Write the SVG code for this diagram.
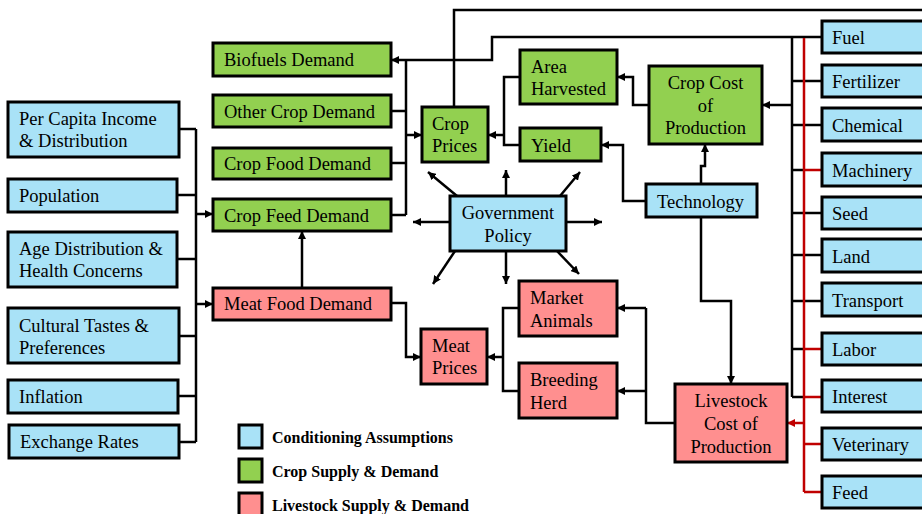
<svg xmlns="http://www.w3.org/2000/svg" width="922" height="514" viewBox="0 0 922 514">
<defs>
<marker id="ah" markerUnits="userSpaceOnUse" markerWidth="9" markerHeight="8" refX="8" refY="4" orient="auto"><path d="M0,0 L8,4 L0,8 z" fill="#000"/></marker>
<marker id="ahr" markerUnits="userSpaceOnUse" markerWidth="9" markerHeight="8" refX="8" refY="4" orient="auto"><path d="M0,0 L8,4 L0,8 z" fill="#c00000"/></marker>
</defs>
<style>
.b{fill:#a9e2f7;stroke:#000;stroke-width:3}
.g{fill:#92d050;stroke:#000;stroke-width:3}
.p{fill:#ff8f8f;stroke:#000;stroke-width:3}
text{font-family:"Liberation Serif","Times New Roman",serif;font-size:18.5px;fill:#000}
.c{text-anchor:middle}
.lg{font-weight:bold;font-size:16px}
#connectors path{fill:none;stroke:#000;stroke-width:2.5}
#connectors .r{stroke:#c00000}
#connectors .a{marker-end:url(#ah)}
#connectors .ar{marker-end:url(#ahr)}
</style>
<rect width="922" height="514" fill="#fff"/>
<g id="connectors">
<path d="M179,129H196M177,195H196M177,259H196M179,336H196M178,396H196M179,442H196M196,129V442"/>
<path class="a" d="M196,214H213"/>
<path class="a" d="M196,304H213"/>
<path d="M391,111H406M391,163H406M391,215H406M406,60V215"/>
<path class="a" d="M406,135H422"/>
<path class="a" d="M822,37H492V60H391"/>
<path d="M454,107V10H922"/>
<path class="a" d="M302,288V231"/>
<path class="a" d="M391,303H406V357H421"/>
<path d="M520,77H504V145H520"/>
<path class="a" d="M504,135H488"/>
<path class="a" d="M649,105H633V77H617"/>
<path class="a" d="M646,201H623V145H601"/>
<path class="a" d="M701,184V166H705V144"/>
<path class="a" d="M701,217V301H731V384"/>
<path class="a" d="M792,105H762"/>
<path d="M792,37V397M792,81H822M792,125H822M792,170H804M792,213H822M792,255H822M792,301H822M792,349H804M792,397H804"/>
<path class="r" d="M804,38V492M804,170H822M804,349H822M804,397H822M804,444H822M804,492H822"/>
<path class="r ar" d="M804,423H787"/>
<path d="M675,423H646V308"/>
<path class="a" d="M646,308H617"/>
<path class="a" d="M646,391H617"/>
<path d="M519,308H503V391H519"/>
<path class="a" d="M503,357H487"/>
<path class="a" d="M450,222H413"/>
<path class="a" d="M566,222H602"/>
<path class="a" d="M506,196V170"/>
<path class="a" d="M457,196L428,172"/>
<path class="a" d="M560,196L580,172"/>
<path class="a" d="M506,251V284"/>
<path class="a" d="M455,251L433,284"/>
<path class="a" d="M557,251L579,274"/>
</g>
<g id="per-capita"><rect class="b" x="8" y="102" width="171" height="55"/><text x="19" y="125">Per Capita Income</text><text x="19" y="147">&amp; Distribution</text></g>
<g id="population"><rect class="b" x="8" y="179" width="169" height="33"/><text x="19" y="202">Population</text></g>
<g id="age"><rect class="b" x="8" y="232" width="169" height="55"/><text x="19" y="255">Age Distribution &amp;</text><text x="19" y="277">Health Concerns</text></g>
<g id="cultural"><rect class="b" x="8" y="308" width="171" height="55"/><text x="19" y="332">Cultural Tastes &amp;</text><text x="19" y="354">Preferences</text></g>
<g id="inflation"><rect class="b" x="8" y="380" width="170" height="33"/><text x="19" y="403">Inflation</text></g>
<g id="exchange"><rect class="b" x="9" y="425" width="170" height="33"/><text x="20" y="448">Exchange Rates</text></g>
<g id="biofuels"><rect class="g" x="213" y="43" width="178" height="33"/><text x="224" y="66">Biofuels Demand</text></g>
<g id="other-crop"><rect class="g" x="213" y="95" width="178" height="32"/><text x="224" y="118">Other Crop Demand</text></g>
<g id="crop-food"><rect class="g" x="213" y="148" width="178" height="31"/><text x="224" y="170">Crop Food Demand</text></g>
<g id="crop-feed"><rect class="g" x="213" y="199" width="178" height="32"/><text x="224" y="222">Crop Feed Demand</text></g>
<g id="meat-food"><rect class="p" x="213" y="288" width="178" height="32"/><text x="224" y="310">Meat Food Demand</text></g>
<g id="crop-prices"><rect class="g" x="422" y="107" width="66" height="55"/><text x="432" y="130">Crop</text><text x="432" y="152">Prices</text></g>
<g id="area"><rect class="g" x="520" y="50" width="97" height="54"/><text x="531" y="73">Area</text><text x="531" y="95">Harvested</text></g>
<g id="yield"><rect class="g" x="520" y="128" width="81" height="33"/><text x="531" y="152">Yield</text></g>
<g id="crop-cost"><rect class="g" x="649" y="66" width="113" height="78"/><text class="c" x="705.5" y="89">Crop Cost</text><text class="c" x="705.5" y="112">of</text><text class="c" x="705.5" y="134">Production</text></g>
<g id="technology"><rect class="b" x="646" y="184" width="111" height="33"/><text x="657" y="208">Technology</text></g>
<g id="government"><rect class="b" x="450" y="196" width="116" height="55"/><text class="c" x="508" y="219">Government</text><text class="c" x="508" y="242">Policy</text></g>
<g id="market"><rect class="p" x="519" y="281" width="98" height="55"/><text x="530" y="304">Market</text><text x="530" y="327">Animals</text></g>
<g id="breeding"><rect class="p" x="519" y="363" width="98" height="55"/><text x="530" y="386">Breeding</text><text x="530" y="409">Herd</text></g>
<g id="meat-prices"><rect class="p" x="421" y="329" width="66" height="55"/><text x="432" y="352">Meat</text><text x="432" y="374">Prices</text></g>
<g id="livestock-cost"><rect class="p" x="675" y="384" width="112" height="78"/><text class="c" x="731" y="407">Livestock</text><text class="c" x="731" y="430">Cost of</text><text class="c" x="731" y="453">Production</text></g>
<g id="fuel"><rect class="b" x="822" y="21" width="110" height="32"/><text x="832" y="44">Fuel</text></g>
<g id="fertilizer"><rect class="b" x="822" y="65" width="110" height="32"/><text x="832" y="88">Fertilizer</text></g>
<g id="chemical"><rect class="b" x="822" y="108" width="110" height="33"/><text x="832" y="132">Chemical</text></g>
<g id="machinery"><rect class="b" x="822" y="153" width="110" height="33"/><text x="832" y="177">Machinery</text></g>
<g id="seed"><rect class="b" x="822" y="197" width="110" height="32"/><text x="832" y="220">Seed</text></g>
<g id="land"><rect class="b" x="822" y="239" width="110" height="33"/><text x="832" y="263">Land</text></g>
<g id="transport"><rect class="b" x="822" y="283" width="110" height="33"/><text x="832" y="307">Transport</text></g>
<g id="labor"><rect class="b" x="822" y="333" width="110" height="32"/><text x="832" y="356">Labor</text></g>
<g id="interest"><rect class="b" x="822" y="380" width="110" height="32"/><text x="832" y="403">Interest</text></g>
<g id="veterinary"><rect class="b" x="822" y="428" width="110" height="32"/><text x="832" y="451">Veterinary</text></g>
<g id="feed"><rect class="b" x="822" y="476" width="110" height="32"/><text x="832" y="499">Feed</text></g>
<g id="legend">
<rect class="b" x="239" y="425" width="23" height="23"/><text class="lg" x="272" y="443">Conditioning Assumptions</text>
<rect class="g" x="239" y="459" width="23" height="23"/><text class="lg" x="272" y="477">Crop Supply &amp; Demand</text>
<rect class="p" x="239" y="493" width="23" height="23"/><text class="lg" x="272" y="511">Livestock Supply &amp; Demand</text>
</g>
</svg>
